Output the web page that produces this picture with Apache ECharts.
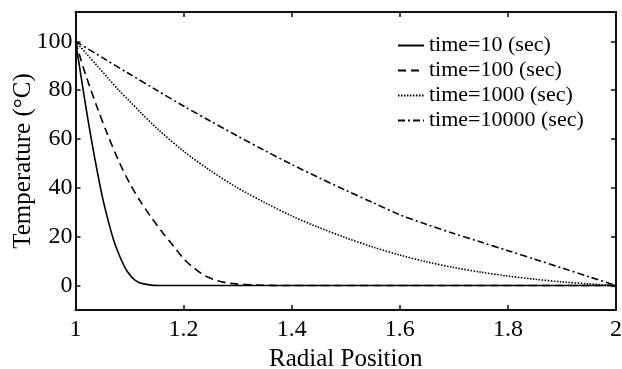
<!DOCTYPE html>
<html>
<head>
<meta charset="utf-8">
<script src="https://cdn.jsdelivr.net/npm/echarts@6/dist/echarts.min.js"></script>
<style>html,body{margin:0;padding:0;background:#fff}#c{width:622px;height:369px}</style>
</head>
<body>
<div id="c"></div>
<script>
// ---- data ----
const seriesNames = ['time=10 (sec)', 'time=100 (sec)', 'time=1000 (sec)', 'time=10000 (sec)'];

const xT10 = [1, 1.005, 1.01, 1.015, 1.02, 1.03, 1.04, 1.05, 1.06, 1.07, 1.08, 1.09, 1.10, 1.11, 1.12, 1.14, 1.16, 1.2, 1.4, 1.6, 1.8, 2];
const yT10 = [100, 93, 86, 79, 72, 59, 47, 36, 27, 19, 13, 8, 4.5, 2.2, 1, 0.2, 0.05, 0, 0, 0, 0, 0];

const xT100 = [1, 1.01, 1.02, 1.04, 1.06, 1.08, 1.10, 1.12, 1.14, 1.16, 1.18, 1.20, 1.22, 1.24, 1.26, 1.28, 1.30, 1.33, 1.36, 1.40, 1.6, 1.8, 2];
const yT100 = [100, 92.5, 85.5, 73, 61.5, 51, 42, 34.5, 28, 22, 16.5, 11, 7, 4, 2.2, 1.1, 0.6, 0.25, 0.1, 0, 0, 0, 0];

const xT1000 = [1, 1.02, 1.04, 1.06, 1.08, 1.10, 1.12, 1.15, 1.20, 1.25, 1.30, 1.35, 1.40, 1.45, 1.50, 1.55, 1.60, 1.65, 1.70, 1.75, 1.80, 1.85, 1.90, 1.95, 2];
const yT1000 = [100, 95, 90, 85, 80, 75.5, 71, 64.5, 55, 47, 40, 34, 28.5, 23.8, 19.6, 15.8, 12.5, 9.7, 7.4, 5.5, 3.9, 2.6, 1.5, 0.7, 0];

const xT10000 = [1, 1.05, 1.10, 1.15, 1.20, 1.25, 1.30, 1.35, 1.40, 1.45, 1.50, 1.55, 1.60, 1.65, 1.70, 1.75, 1.80, 1.85, 1.90, 1.95, 2];
const yT10000 = [100, 93.3, 86.6, 80, 73.5, 67.3, 61.2, 55.3, 49.6, 44.2, 39, 34, 29, 25, 21.3, 17.8, 14.3, 10.8, 7.2, 3.6, 0];

const xTicks = [1, 1.2, 1.4, 1.6, 1.8, 2];
const yTicks = [0, 20, 40, 60, 80, 100];

// ---- chart ----
const pairs = (xs, ys) => xs.map((x, i) => [x, ys[i]]);
const font = "'Liberation Serif','Times New Roman',serif";
const black = '#000';

const lineTypes = ['solid', [8, 5], [1.5, 1.5], [7, 3, 2, 3]];
const dataSets = [pairs(xT10, yT10), pairs(xT100, yT100), pairs(xT1000, yT1000), pairs(xT10000, yT10000)];

const chart = echarts.init(document.getElementById('c'), null, {renderer: 'canvas'});
const axisCommon = {
  axisLine: {show: true, onZero: false, lineStyle: {color: '#111', width: 2}},
  axisTick: {show: true, inside: true, length: 5, lineStyle: {color: '#111', width: 1.5}},
  splitLine: {show: false}
};

chart.setOption({
  animation: false,
  backgroundColor: '#fff',
  grid: {left: 75.5, right: 6, top: 12, bottom: 59, containLabel: false, outerBoundsMode: 'none'},
  legend: {
    orient: 'vertical',
    left: 392, top: 28,
    itemWidth: 26, itemHeight: 14, itemGap: 0,
    itemStyle: {opacity: 0},
    textStyle: {fontFamily: font, fontSize: 22, color: black, lineHeight: 25},
    data: seriesNames.map(n => ({name: n}))
  },
  xAxis: [
    Object.assign({}, axisCommon, {
      type: 'value', min: 1, max: 2, interval: 0.2, position: 'bottom',
      name: 'Radial Position', nameLocation: 'middle', nameGap: 37,
      nameTextStyle: {fontFamily: font, fontSize: 25, color: black},
      axisLabel: {show: true, fontFamily: font, fontSize: 24, color: black, margin: 8,
        showMinLabel: true, showMaxLabel: true,
        customValues: xTicks, formatter: v => String(+v.toFixed(1))},
      axisTick: Object.assign({}, axisCommon.axisTick, {customValues: xTicks})
    }),
    Object.assign({}, axisCommon, {
      type: 'value', min: 1, max: 2, interval: 0.2, position: 'top',
      axisLabel: {show: false},
      axisTick: Object.assign({}, axisCommon.axisTick, {customValues: xTicks})
    })
  ],
  yAxis: [
    Object.assign({}, axisCommon, {
      type: 'value', min: -10, max: 112, position: 'left',
      name: 'Temperature (°C)', nameLocation: 'middle', nameGap: 40, nameMoveOverlap: false,
      nameTextStyle: {fontFamily: font, fontSize: 25, color: black},
      axisLabel: {show: true, fontFamily: font, fontSize: 24, color: black, margin: 3,
        customValues: yTicks},
      axisTick: Object.assign({}, axisCommon.axisTick, {customValues: yTicks})
    }),
    Object.assign({}, axisCommon, {
      type: 'value', min: -10, max: 112, position: 'right',
      axisLabel: {show: false},
      axisTick: Object.assign({}, axisCommon.axisTick, {customValues: yTicks})
    })
  ],
  series: dataSets.map((d, i) => ({
    name: seriesNames[i],
    type: 'line',
    data: d,
    xAxisIndex: 0, yAxisIndex: 0,
    symbol: 'none',
    smooth: 0.3,
    lineStyle: {color: black, width: 1.6, type: lineTypes[i]},
    itemStyle: {color: black}
  }))
});
</script>
</body>
</html>
